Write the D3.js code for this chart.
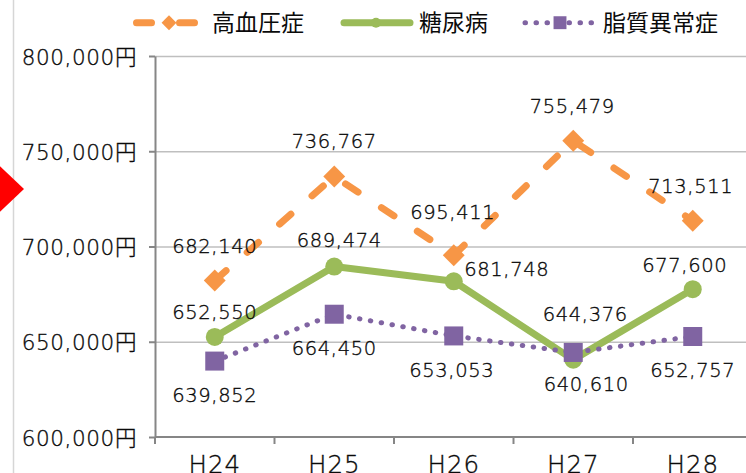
<!DOCTYPE html>
<html>
<head>
<meta charset="utf-8">
<script src="https://cdn.jsdelivr.net/npm/d3@7"></script>
<style>
body { margin: 0; background: #fff; }
svg { display: block; }
text { font-family: "DejaVu Sans", "Noto Sans CJK JP", sans-serif; font-weight: 200; fill: #0a0a0a; stroke: #0a0a0a; stroke-width: 0.35px; }
</style>
</head>
<body>
<svg id="chart" width="746" height="473"></svg>
<script>
var years = ["H24", "H25", "H26", "H27", "H28"];
var yTicks = [600000, 650000, 700000, 750000, 800000];
var hypertension = [682140, 736767, 695411, 755479, 713511];
var diabetes = [652550, 689474, 681748, 640610, 677600];
var dyslipidemia = [639852, 664450, 653053, 644376, 652757];
var seriesNames = ["高血圧症", "糖尿病", "脂質異常症"];

// label nudges [dx, dy] from each point
var hyperLabelPos = [[0, -28], [0, -28], [-1, -36], [-1, -28], [-2, -28]];
var diabLabelPos = [[0, -18], [5, -20], [53, -5], [13, 31], [-8, -17]];
var dyslLabelPos = [[0, 41], [0, 41], [-2, 41], [12, -31], [0, 41]];

var fmt = d3.format(",");
var svg = d3.select("#chart");

var plotLeft = 155, plotTop = 56, plotBottom = 437, plotRight = 746;
var x = d3.scaleBand().domain(years).range([plotLeft, plotLeft + 5 * 119.5]);
var y = d3.scaleLinear().domain([600000, 800000]).range([plotBottom, plotTop]);
var cx = function(d, i) { return x(years[i]) + x.bandwidth() / 2; };

// frame line and red pointer on the left edge
svg.append("line")
    .attr("x1", 13.5).attr("x2", 13.5).attr("y1", 0).attr("y2", 473)
    .attr("stroke", "#d6d6d6").attr("stroke-width", 1.5);
svg.append("polygon")
    .attr("points", "-12,155 24,189 -12,223")
    .attr("fill", "#ff0000");

// gridlines
svg.append("g")
    .attr("transform", "translate(" + plotLeft + ",0)")
    .call(d3.axisLeft(y).tickValues(yTicks.slice(1)).tickSize(-(plotRight - plotLeft)).tickFormat(""))
    .call(function(g) { g.select(".domain").remove(); })
    .selectAll("line").attr("stroke", "#bfbfbf").attr("stroke-width", 1.5);

// y axis
var yAxis = svg.append("g")
    .attr("transform", "translate(" + plotLeft + ",0)")
    .call(d3.axisLeft(y).tickValues(yTicks).tickSize(6).tickSizeOuter(0).tickPadding(12)
        .tickFormat(function(d) { return fmt(d) + "円"; }));
yAxis.select(".domain").attr("stroke", "#868686").attr("stroke-width", 2);
yAxis.selectAll(".tick line").attr("stroke", "#868686").attr("stroke-width", 2);
yAxis.selectAll(".tick text")
    .attr("dy", "0.38em")
    .style("font-size", "21.5px")
    .style("letter-spacing", "0.6px")
    .attr("fill", "#0a0a0a");

// x axis
var xAxis = svg.append("g")
    .attr("transform", "translate(0," + plotBottom + ")")
    .call(d3.axisBottom(x).tickSize(0).tickPadding(0));
xAxis.select(".domain").remove();
xAxis.selectAll(".tick text")
    .attr("y", 36).attr("dy", 0)
    .style("font-size", "24.5px")
    .style("letter-spacing", "1px")
    .attr("fill", "#0a0a0a");
svg.append("line")
    .attr("x1", plotLeft).attr("x2", plotRight).attr("y1", plotBottom).attr("y2", plotBottom)
    .attr("stroke", "#868686").attr("stroke-width", 2);
svg.append("g").selectAll("line")
    .data(d3.range(years.length + 1))
    .enter()
    .append("line")
        .attr("x1", function(i) { return plotLeft + i * x.step(); })
        .attr("x2", function(i) { return plotLeft + i * x.step(); })
        .attr("y1", plotBottom).attr("y2", plotBottom + 7)
        .attr("stroke", "#868686").attr("stroke-width", 2);

var line = d3.line()
    .x(cx)
    .y(function(d) { return y(d); });

var series = [
    { values: hypertension, color: "#f79646", dash: "15 28", width: 7, marker: "diamond", labels: hyperLabelPos },
    { values: diabetes, color: "#9bbb59", dash: null, width: 7, marker: "circle", labels: diabLabelPos },
    { values: dyslipidemia, color: "#8064a2", dash: "0.5 10.5", width: 5, marker: "square", labels: dyslLabelPos }
];

var drawMarker = function(sel, kind, color, scale) {
    if (kind == "circle") {
        sel.append("circle").attr("r", 9 * scale).attr("fill", color);
    } else if (kind == "diamond") {
        sel.append("path")
            .attr("d", d3.symbol(d3.symbolSquare, 240 * scale * scale)())
            .attr("transform", "rotate(45)")
            .attr("fill", color);
    } else {
        sel.append("path")
            .attr("d", d3.symbol(d3.symbolSquare, 361 * scale * scale)())
            .attr("fill", color);
    }
}

series.forEach(function(s) {
    svg.append("path")
        .datum(s.values)
        .attr("d", line)
        .attr("fill", "none")
        .attr("stroke", s.color)
        .attr("stroke-width", s.width)
        .attr("stroke-linecap", "round")
        .attr("stroke-linejoin", "round")
        .attr("stroke-dasharray", s.dash);

    svg.append("g").selectAll("g")
        .data(s.values)
        .enter()
        .append("g")
            .attr("transform", function(d, i) { return "translate(" + cx(d, i) + "," + y(d) + ")"; })
            .each(function() { drawMarker(d3.select(this), s.marker, s.color, 1); });
});

series.forEach(function(s) {
    svg.append("g").selectAll("text")
        .data(s.values)
        .enter()
        .append("text")
            .attr("x", function(d, i) { return cx(d, i) + s.labels[i][0]; })
            .attr("y", function(d, i) { return y(d) + s.labels[i][1]; })
            .attr("text-anchor", "middle")
            .style("font-size", "19.5px")
            .style("letter-spacing", "0.6px")
            .text(fmt);
});

// legend
var legendItems = [
    { x1: 136.5, x2: 196, mx: 169, tx: 212 },
    { x1: 344, x2: 410, mx: 376, tx: 419 },
    { x1: 525, x2: 596, mx: 560, tx: 603 }
];
var legend = svg.append("g").attr("transform", "translate(0,22.7)");
legendItems.forEach(function(item, i) {
    var s = series[i];
    legend.append("line")
        .attr("x1", item.x1).attr("x2", item.x2)
        .attr("stroke", s.color)
        .attr("stroke-width", s.width)
        .attr("stroke-linecap", "round")
        .attr("stroke-dasharray", s.dash);
    drawMarker(legend.append("g").attr("transform", "translate(" + item.mx + ",0)"), s.marker, s.color, i == 1 ? 0.55 : 0.68);
    legend.append("text")
        .attr("x", item.tx)
        .attr("y", 8.5)
        .style("font-family", "'Noto Sans CJK JP', sans-serif")
        .style("font-weight", "400")
        .style("stroke", "none")
        .style("font-size", "23px")
        .attr("fill", "#1a1a1a")
        .text(seriesNames[i]);
});
</script>
</body>
</html>
